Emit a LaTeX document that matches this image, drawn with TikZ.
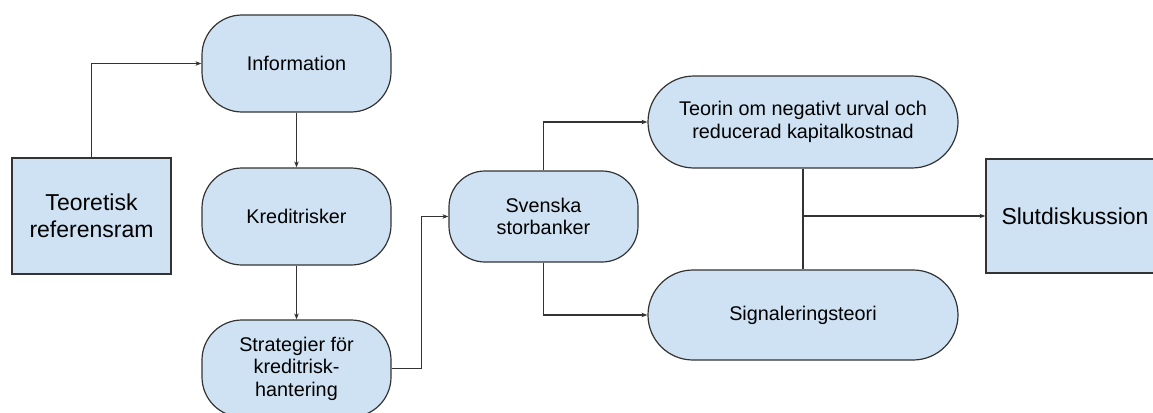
\documentclass[tikz,border=0pt]{standalone}
\usepackage{fontspec}
\setmainfont{Liberation Sans}
\usetikzlibrary{arrows.meta}
\definecolor{boxfill}{HTML}{CFE2F3}
\definecolor{boxline}{HTML}{333333}

\begin{document}
\begin{tikzpicture}[x=1pt, y=-1pt,
    box/.style={draw=boxline, fill=boxfill, line width=1.2pt, align=center, inner sep=0pt,
        font=\fontsize{23}{27}\selectfont},
    pill/.style={box, rounded corners=40pt, minimum width=189pt, minimum height=97pt,
        font=\fontsize{19.8}{22.5}\selectfont},
    line/.style={draw=boxline, line width=1.1pt},
    link/.style={line, -{Stealth[length=6pt, width=4.5pt]}}]
    \clip (0,0) rectangle (1153,412);

    % Left column
    \node[box, minimum width=159pt, minimum height=116pt] (teoretisk) at (91.5,216) {Teoretisk\\referensram};
    \node[pill] (information) at (296.5,63.5) {Information};
    \node[pill] (kreditrisker) at (296.5,216.5) {Kreditrisker};
    \node[pill] (strategier) at (296.5,368.5) {Strategier för\\kreditrisk-\\hantering};

    % Middle
    \node[pill, minimum height=91pt, rounded corners=36pt] (svenska) at (543.5,216.5) {Svenska\\storbanker};
    \node[pill, minimum width=310pt, minimum height=92pt, rounded corners=46pt] (teorin) at (803,122)
        {Teorin om negativt urval och\\reducerad kapitalkostnad};
    \node[pill, minimum width=310pt, minimum height=90pt, rounded corners=45pt] (signal) at (803,315)
        {Signaleringsteori};

    % Right
    \node[box, minimum width=178pt, minimum height=114pt] (slut) at (1075,216) {Slutdiskussion};

    % Connectors
    \draw[link] (teoretisk.north) |- (information.west);
    \draw[link] (information) -- (kreditrisker);
    \draw[link] (kreditrisker) -- (strategier);
    \draw[link] (strategier.east) -- ++(30,0) |- (svenska.west);
    \draw[link] (svenska.north) |- (teorin.west);
    \draw[link] (svenska.south) |- (signal.west);
    \draw[line] (teorin.south) -- (signal.north);
    \draw[link] (teorin.south |- slut.west) -- (slut.west);
\end{tikzpicture}
\end{document}
